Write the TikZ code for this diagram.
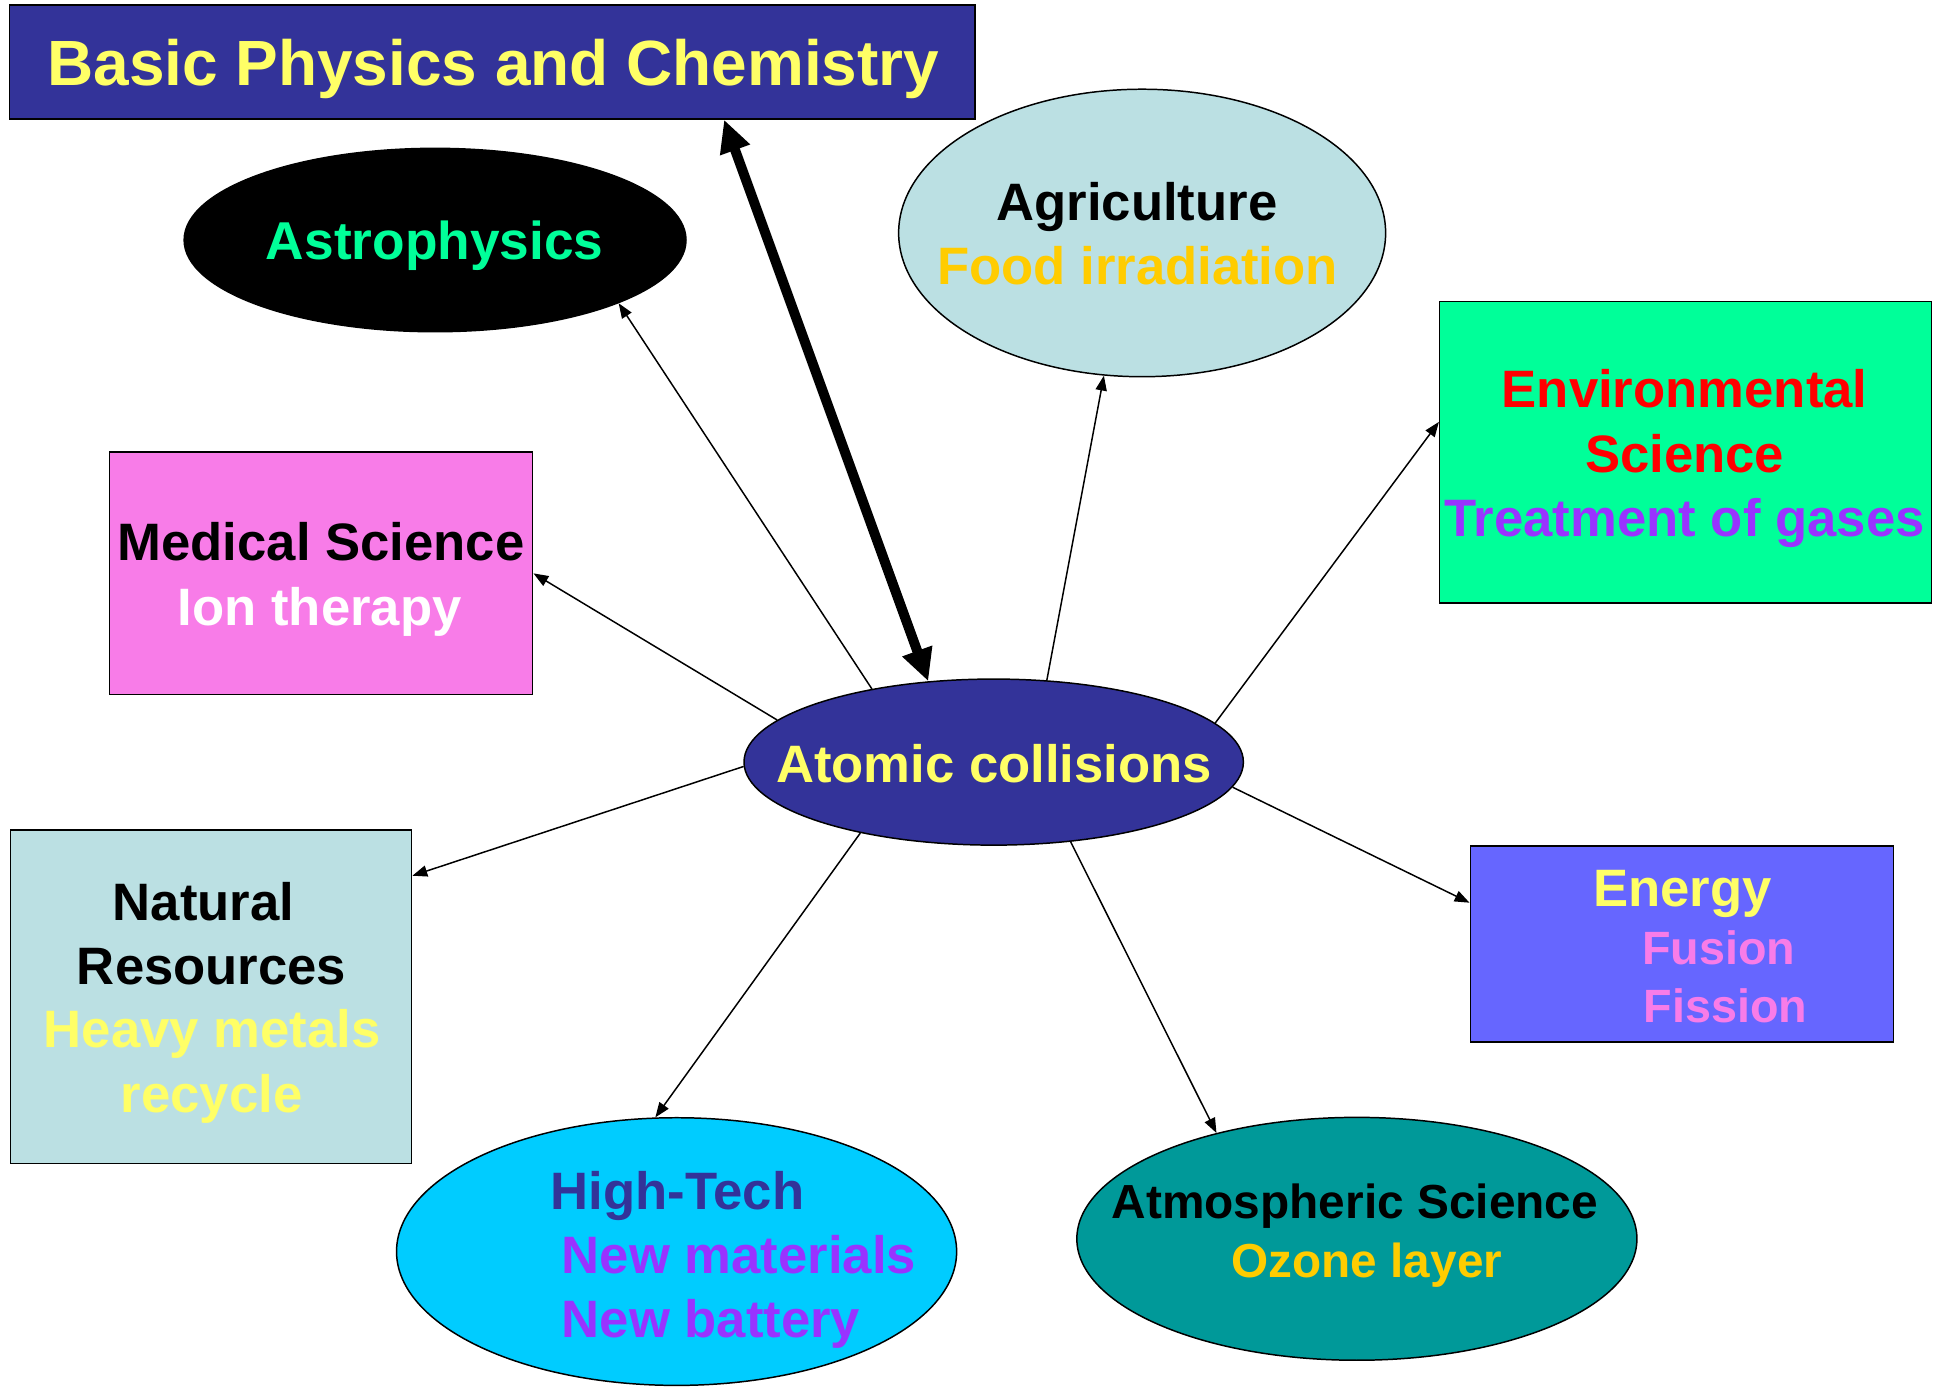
\documentclass[tikz,border=0pt]{standalone}
\usepackage{fontspec}
\setmainfont{Liberation Sans}
\usetikzlibrary{shapes.geometric,arrows.meta}
\definecolor{cNavy}{HTML}{333399}
\definecolor{cYel}{HTML}{FFFF66}
\definecolor{cSpring}{HTML}{00FF99}
\definecolor{cPale}{HTML}{BBE0E3}
\definecolor{cGold}{HTML}{FFCC00}
\definecolor{cViolet}{HTML}{9933FF}
\definecolor{cPink}{HTML}{F87CE8}
\definecolor{cPeri}{HTML}{6666FF}
\definecolor{cSky}{HTML}{00CCFF}
\definecolor{cTeal}{HTML}{009999}
\definecolor{cRed}{HTML}{FF0000}
\begin{document}
\begin{tikzpicture}[x=1pt,y=-1pt,
  shapebox/.style={draw=black, line width=1.2pt, rectangle, inner sep=0pt},
  shapeell/.style={draw=black, line width=1.2pt, ellipse, inner sep=0pt},
  txt/.style={inner sep=0pt, anchor=base},
  fs/.style={font=\bfseries\fontsize{#1}{#1}\selectfont},
  link/.style={line width=1.2pt, -{Triangle[length=12pt,width=9pt]}},
  biglink/.style={line width=8pt, {Triangle[length=26pt,width=24pt]}-{Triangle[length=26pt,width=24pt]}}]
\useasboundingbox (0,0) rectangle (1568,1119);

% shapes
\node[shapebox, fill=cNavy, minimum width=779.3pt, minimum height=92pt] (title) at (397.35,50) {};
\node[shapeell, fill=black, minimum width=405pt, minimum height=148pt] (astro) at (351.1,193.7) {};
\node[shapeell, fill=cPale, minimum width=393pt, minimum height=232pt] (agri) at (921.7,188) {};
\node[shapebox, fill=cSpring, minimum width=396.7pt, minimum height=243.4pt] (env) at (1360.15,364.9) {};
\node[shapebox, fill=cPink, minimum width=341.4pt, minimum height=195.8pt] (med) at (259.2,462.7) {};
\node[shapeell, fill=cNavy, minimum width=403pt, minimum height=134pt] (atomic) at (801.9,615) {};
\node[shapebox, fill=cPale, minimum width=323.6pt, minimum height=269pt] (nat) at (170.4,804.3) {};
\node[shapebox, fill=cPeri, minimum width=341.7pt, minimum height=158.2pt] (energy) at (1357.35,761.8) {};
\node[shapeell, fill=cSky, minimum width=452pt, minimum height=216pt] (hitech) at (546,1010) {};
\node[shapeell, fill=cTeal, minimum width=452pt, minimum height=196pt] (atmos) at (1095,999.7) {};

% texts
\node[txt, fs=51.6, text=cYel] (tTitle) at (398.1,68.6) {Basic Physics and Chemistry};
\node[txt, fs=43, text=cSpring] (tAstro) at (350.8,209.8) {Astrophysics};
\node[txt, fs=42.5, text=black] (tAgri1) at (917.5,178.3) {Agriculture};
\node[txt, fs=42.5, text=cGold] (tAgri2) at (918,229.5) {Food irradiation};
\node[txt, fs=42.5, text=cRed] (tEnv1) at (1359.5,329.2) {Environmental};
\node[txt, fs=42.5, text=cRed] (tEnv2) at (1359.5,380.9) {Science};
\node[txt, fs=42.5, text=cViolet] (tEnv3) at (1359.5,432.8) {Treatment of gases};
\node[txt, fs=42.5, text=black] (tMed1) at (259,452.4) {Medical Science};
\node[txt, fs=42.5, text=white] (tMed2) at (258,504.6) {Ion therapy};
\node[txt, fs=42.5, text=cYel] (tAtom) at (802.2,631.6) {Atomic collisions};
\node[txt, fs=42.5, text=black] (tNat1) at (164.3,743.2) {Natural};
\node[txt, fs=42.5, text=black] (tNat2) at (170.8,794.3) {Resources};
\node[txt, fs=42.5, text=cYel] (tNat3) at (171.2,845.4) {Heavy metals};
\node[txt, fs=42.5, text=cYel] (tNat4) at (170.8,897.6) {recycle};
\node[txt, fs=42.5, text=cYel] (tEn1) at (1357.7,731.7) {Energy};
\node[txt, fs=37.7, text=cPink, anchor=base west] (tEn2) at (1325,778.2) {Fusion};
\node[txt, fs=37.7, text=cPink, anchor=base west] (tEn3) at (1326.3,825.3) {Fission};
\node[txt, fs=42.5, text=cNavy] (tHT1) at (546.7,976.4) {High-Tech};
\node[txt, fs=42.5, text=cViolet, anchor=base west] (tHT2) at (453.2,1027.5) {New materials};
\node[txt, fs=42.5, text=cViolet, anchor=base west] (tHT3) at (453.1,1079.5) {New battery};
\node[txt, fs=38.6, text=black] (tAt1) at (1093.4,983.2) {Atmospheric Science};
\node[txt, fs=38.5, text=cGold] (tAt2) at (1103.1,1031) {Ozone layer};

% connectors
\draw[biglink] (atomic.129) -- (title.346.6);
\draw[link] (atomic.149.1) -- (astro.341.9);
\draw[link] (atomic.169.8) -- (med.east);
\draw[link] (atomic.181.7) -- (nat.31.2);
\draw[link] (atomic.208.5) -- (hitech.99.4);
\draw[link] (atomic.314.6) -- (atmos.143.5);
\draw[link] (atomic.354) -- (energy.169.5);
\draw[link] (atomic.10.2) -- (env.173.2);
\draw[link] (atomic.57.2) -- (agri.255.5);
\end{tikzpicture}
\end{document}
